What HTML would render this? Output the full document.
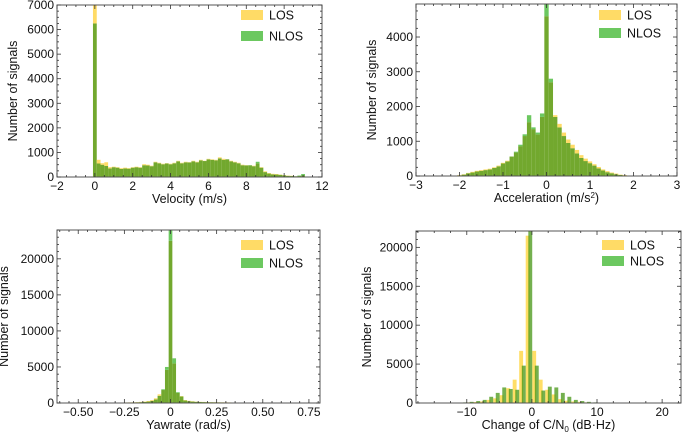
<!DOCTYPE html>
<html><head><meta charset="utf-8"><style>
html,body{margin:0;padding:0;background:#fff;}
svg{display:block;font-family:"Liberation Sans",Arial,sans-serif;}
</style></head><body>
<svg id="fig" width="685" height="434" viewBox="0 0 685 434"></svg>
<script>
// ---- Velocity data (bin width 0.2, first bin centered at 0) ----
const velStart = -0.1, velWidth = 0.2;
const velNLOS = [6250,550,500,450,350,400,380,330,350,340,380,400,380,480,470,440,600,560,520,550,520,560,640,560,600,590,640,600,680,650,720,700,680,760,700,720,640,600,560,480,470,480,440,620,380,200,140,110,100,90,70,50,40,30,60,120];
const velLOS  = [7000,700,560,600,400,420,400,360,380,360,400,420,400,520,500,460,620,580,540,560,540,580,660,580,620,600,660,620,700,660,740,720,700,800,740,720,660,620,580,500,480,470,460,560,400,230,160,130,120,100,80,60,50,30,40,60];
// ---- Acceleration data (bin width 0.1, centers from -2.2) ----
const accStart = -2.25, accWidth = 0.1;
const accNLOS = [0,5,20,40,80,100,130,150,170,190,230,280,360,420,560,700,900,1200,1750,1400,1250,1800,4950,2800,1700,1400,1150,950,800,650,520,430,370,300,220,160,110,80,50,30,15,8,5,2,0];
const accLOS  = [0,10,30,50,90,120,150,170,190,210,250,300,380,440,560,680,860,1150,1550,1350,1200,1700,4600,2700,1750,1500,1250,1050,900,750,600,500,420,340,260,190,140,100,70,40,25,12,8,4,0];
// ---- Yawrate data (bin width 0.02, centers from -0.6) ----
const yawStart = -0.61, yawWidth = 0.02;
const yawNLOS = [10,10,15,15,20,20,20,25,25,30,30,35,35,40,40,45,50,55,60,70,80,100,120,150,200,300,500,1000,1900,5000,24000,6200,1500,900,350,250,200,160,140,130,120,110,100,90,80,70,60,55,50,45,40,35,30,25,20,20,15,15,10,10,10,8,6,5,4,3,2,2,1,1,0];
const yawLOS  = [15,15,20,20,25,25,30,30,35,35,40,40,45,50,55,60,65,70,80,90,100,130,160,200,280,400,650,1200,1800,4600,22500,5500,1400,950,400,300,240,190,160,150,140,130,120,110,100,90,80,70,60,55,50,45,40,35,30,25,20,18,15,12,10,8,6,5,4,3,2,2,1];
// ---- C/N0 change data (integer bins) ----
const cnK    = [-12,-11,-10,-9,-8,-7,-6,-5,-4,-3,-2,-1,0,1,2,3,4,5,6,7,8,9,10,11,12];
const cnNLOS = [0,40,80,150,250,400,800,1300,2000,1800,1700,4800,22100,4800,1600,2100,2000,1300,800,400,250,150,80,50,0];
const cnLOS  = [0,20,40,80,120,200,400,600,1000,1900,3000,6700,21500,6700,3000,1700,1100,500,300,200,150,80,40,20,0];
// tick labels
const velXTicks = [-2,0,2,4,6,8,10,12];
const velYTicks = [0,1000,2000,3000,4000,5000,6000,7000];
const accXTicks = [-3,-2,-1,0,1,2,3];
const accYTicks = [0,1000,2000,3000,4000];
const yawXTicks = [-0.5,-0.25,0,0.25,0.5,0.75];
const yawXLabels = ["\u22120.50","\u22120.25","0","0.25","0.50","0.75"];
const yawYTicks = [0,5000,10000,15000,20000];
const cnXTicks = [-10,0,10,20];
const cnYTicks = [0,5000,10000,15000,20000];

const NS="http://www.w3.org/2000/svg";
const svg=document.getElementById('fig');
const LOSC="#ffdb66", NLOSC="#6cc860", OLIVE="#72a82e";
const LOSA="rgba(255,200,0,0.6)", NLOSA="rgba(70,150,20,0.75)";
function mk(tag,attrs,parent){const e=document.createElementNS(NS,tag);for(const k in attrs)e.setAttribute(k,attrs[k]);(parent||svg).appendChild(e);return e;}
function fmt(v){return v<0?"\u2212"+(-v):String(v);}

function panel(o){
  const g=mk('g',{});
  
  
  const X=v=>o.L+(v-o.x0)/(o.x1-o.x0)*(o.R-o.L);
  const Y=v=>o.B-(v/o.ymax)*(o.B-o.T);
  const clip='c'+o.name;
  const cp=mk('clipPath',{id:clip},g);mk('rect',{x:o.L,y:o.T,width:o.R-o.L,height:o.B-o.T},cp);
  const bars=mk('g',{'clip-path':'url(#'+clip+')'},g);
  
  
  if(o.overlay){
    const s1=o.series[0], s2=o.series[1];
    s1.vals.forEach((v1,i)=>{
      const v2=s2.vals[i]||0;
      const a=s1.xs(i), b=a+s1.w;
      const lo=Math.min(v1,v2), hi=Math.max(v1,v2);
      const r1=mk('rect',{x:X(a),y:Y(lo),width:X(b)-X(a),height:Math.max(0,o.B-Y(lo)),fill:OLIVE},bars);
      
      
      const r2=mk('rect',{x:X(a),y:Y(hi),width:X(b)-X(a),height:Math.max(0,Y(lo)-Y(hi)),fill:v1>v2?LOSC:NLOSC},bars);
      
      
    });
  } else {
    o.series.forEach(s=>{
      s.vals.forEach((v,i)=>{
        const a=s.xs(i), b=a+s.w;
        const r=mk('rect',{x:X(a),y:Y(v),width:Math.max(0,X(b)-X(a)),height:Math.max(0,o.B-Y(v)),fill:s.color},bars);
        
        
      });
    });
  }
  const fr=mk('rect',{x:o.L,y:o.T,width:o.R-o.L,height:o.B-o.T,fill:'none',stroke:'#555','stroke-width':1},g);
  
  
  const tk=mk('g',{stroke:'#333','stroke-width':0.8},g);
  
  
  for(let v=o.x0m;v<=o.x1+1e-9;v+=o.xminor){ if(v<o.x0-1e-9)continue;const x=X(v);
    const major=o.xt.some(t=>Math.abs(t-v)<1e-6);const len=major?4:2;
    mk('line',{x1:x,x2:x,y1:o.B,y2:o.B-len},tk);mk('line',{x1:x,x2:x,y1:o.T,y2:o.T+len},tk);}
  for(let v=0;v<=o.ymax+1e-9;v+=o.yminor){const y=Y(v);
    const major=o.yt.some(t=>Math.abs(t-v)<1e-6);const len=major?4:2;
    mk('line',{x1:o.L,x2:o.L+len,y1:y,y2:y},tk);mk('line',{x1:o.R,x2:o.R-len,y1:y,y2:y},tk);}
  o.xt.forEach((v,i)=>{const t=mk('text',{x:X(v),y:o.B+13,'font-size':12,'text-anchor':'middle',fill:'#111'},g);
    t.textContent=o.xl?o.xl[i]:fmt(v);
    
    });
  o.yt.forEach(v=>{const t=mk('text',{x:o.L-3,y:Y(v)+4,'font-size':12,'text-anchor':'end',fill:'#111'},g);
    t.textContent=String(v);
    
    });
  const xt=mk('text',{x:(o.L+o.R)/2,y:o.B+26,'font-size':12.5,'text-anchor':'middle',fill:'#111'},g);
  xt.innerHTML=o.xlabel;
  
  
  const yt=mk('text',{x:0,y:0,'font-size':12.5,'text-anchor':'middle',fill:'#111',transform:`translate(${o.yx},${(o.T+o.B)/2}) rotate(-90)`},g);
  yt.textContent='Number of signals';
  
  
  [['LOS',LOSC],['NLOS',NLOSC]].forEach((e,i)=>{
    const lg=mk('g',{},g);
    
    
    const y=o.legY+i*o.legDy;
    mk('rect',{x:o.legX,y:y-5,width:22,height:10,fill:e[1]},lg);
    const t=mk('text',{x:o.legX+28,y:y+4.5,'font-size':12.5,fill:'#111'},lg);t.textContent=e[0];
  });
}

panel({name:'velocity-panel',overlay:true,L:57,R:322,T:5,B:177,x0:-2,x1:12,x0m:-2,xminor:0.5,ymax:7000,yminor:250,xt:velXTicks,yt:velYTicks,
  xlabel:'Velocity (m/s)',yx:17,legX:241,legY:15,legDy:21,
  series:[{label:'los',vals:velLOS,w:velWidth,xs:i=>velStart+i*velWidth},{label:'nlos',vals:velNLOS,w:velWidth,xs:i=>velStart+i*velWidth}]});
panel({name:'acceleration-panel',overlay:true,L:416,R:677,T:4,B:176,x0:-3,x1:3,x0m:-3,xminor:0.2,ymax:4950,yminor:250,xt:accXTicks,yt:accYTicks,
  xlabel:'Acceleration (m/s<tspan font-size="8" dy="-4">2</tspan><tspan dy="4">)</tspan>',yx:376,legX:599,legY:15,legDy:18,
  series:[{label:'los',vals:accLOS,w:accWidth,xs:i=>accStart+i*accWidth},{label:'nlos',vals:accNLOS,w:accWidth,xs:i=>accStart+i*accWidth}]});
panel({name:'yawrate-panel',overlay:true,L:57,R:320,T:230,B:403,x0:-0.615,x1:0.81,x0m:-0.6,xminor:0.05,ymax:24000,yminor:1000,xt:yawXTicks,xl:yawXLabels,yt:yawYTicks,
  xlabel:'Yawrate (rad/s)',yx:8,legX:241,legY:245,legDy:18,
  series:[{label:'los',vals:yawLOS,w:yawWidth,xs:i=>yawStart+i*yawWidth},{label:'nlos',vals:yawNLOS,w:yawWidth,xs:i=>yawStart+i*yawWidth}]});
panel({name:'cn0-change-panel',overlay:false,L:416,R:681,T:231,B:403,x0:-17.8,x1:22.9,x0m:-17.5,xminor:2.5,ymax:22100,yminor:1000,xt:cnXTicks,yt:cnYTicks,
  xlabel:'Change of C/N<tspan font-size="8" dy="3">0</tspan><tspan dy="-3"> (dB·Hz)</tspan>',yx:371,legX:602,legY:245,legDy:16,
  series:[{label:'los',vals:cnLOS,color:LOSA,w:0.6,xs:i=>cnK[i]-0.95},{label:'nlos',vals:cnNLOS,color:NLOSA,w:0.6,xs:i=>cnK[i]-0.55}]});
</script>
</body></html>
